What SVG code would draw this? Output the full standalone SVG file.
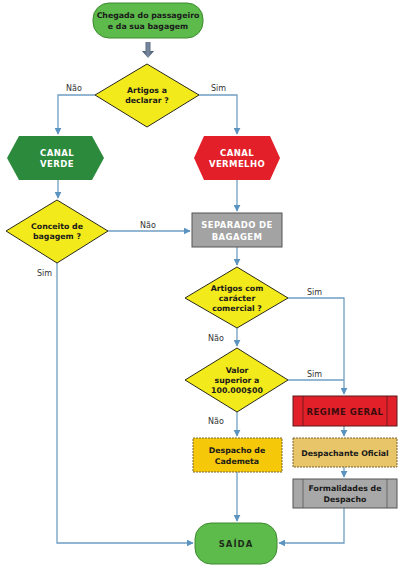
<svg xmlns="http://www.w3.org/2000/svg" width="403" height="570" viewBox="0 0 403 570">
<style>
.t{font-family:"DejaVu Sans",Verdana,sans-serif;font-weight:bold;font-size:7.8px;text-anchor:middle;fill:#1a1a1a}
.w{fill:#ffffff;font-size:8.5px;letter-spacing:0.4px}
.lbl{font-family:"DejaVu Sans",Verdana,sans-serif;font-size:8px;fill:#333}
.c{fill:none;stroke:#6f9fc3;stroke-width:1.3}
.dia{fill:#f3ea1c;stroke:#2a2a1a;stroke-width:1}
</style>
<defs>
<marker id="ah" viewBox="0 0 10 10" refX="9" refY="5" markerWidth="7" markerHeight="7" orient="auto" markerUnits="userSpaceOnUse">
<path d="M0,0 L10,5 L0,10 Z" fill="#5b93c0"/>
</marker>
<linearGradient id="ga" x1="0" x2="1" y1="0" y2="0">
<stop offset="0" stop-color="#3c4c60"/><stop offset="0.5" stop-color="#7a8aa0"/><stop offset="1" stop-color="#3c4c60"/>
</linearGradient>
</defs>
<g id="connectors">
<path class="c" d="M95,95 H58 V134" marker-end="url(#ah)"/>
<path class="c" d="M199,95 H237 V134" marker-end="url(#ah)"/>
<path class="c" d="M58,180 V198" marker-end="url(#ah)"/>
<path class="c" d="M237,180 V211" marker-end="url(#ah)"/>
<path class="c" d="M108,231 H190" marker-end="url(#ah)"/>
<path class="c" d="M237,247 V265" marker-end="url(#ah)"/>
<path class="c" d="M237,328 V346" marker-end="url(#ah)"/>
<path class="c" d="M288,298 H344 V394" marker-end="url(#ah)"/>
<path class="c" d="M288,380 H344"/>
<path class="c" d="M237,412 V436" marker-end="url(#ah)"/>
<path class="c" d="M344,426 V436" marker-end="url(#ah)"/>
<path class="c" d="M344,467 V477" marker-end="url(#ah)"/>
<path class="c" d="M237,472 V521" marker-end="url(#ah)"/>
<path class="c" d="M344,508 V543 H279" marker-end="url(#ah)"/>
<path class="c" d="M57,263 V543 H193" marker-end="url(#ah)"/>
<text class="lbl" x="66" y="91">Não</text>
<text class="lbl" x="211" y="91">Sim</text>
<text class="lbl" x="140" y="228">Não</text>
<text class="lbl" x="37" y="276">Sim</text>
<text class="lbl" x="307" y="295">Sim</text>
<text class="lbl" x="208" y="341">Não</text>
<text class="lbl" x="307" y="377">Sim</text>
<text class="lbl" x="208" y="424">Não</text>
</g>
<g id="start">
<rect x="93" y="3" width="110" height="35" rx="16" fill="#5dbb4c" stroke="#3f8a31" stroke-width="1"/>
<text class="t" x="148" y="18" fill="#1d3d17">Chegada do passageiro</text>
<text class="t" x="148" y="29">e da sua bagagem</text>
<path d="M145.5,42 H150.5 V51 H154 L148,58 L142,51 H145.5 Z" fill="url(#ga)"/>
</g>
<g id="d1">
<polygon class="dia" points="147,64 199,95 147,127 95,95"/>
<text class="t" x="147" y="93">Artigos a</text>
<text class="t" x="147" y="103">declarar ?</text>
</g>
<g id="verde">
<polygon points="7,158 19,136 92,136 104,158 92,180 19,180" fill="#2b8a3c"/>
<text class="t w" x="57" y="156">CANAL</text>
<text class="t w" x="57" y="167">VERDE</text>
</g>
<g id="vermelho">
<polygon points="194,158 204,136 270,136 280,158 270,180 204,180" fill="#e3202a"/>
<text class="t w" x="237" y="156">CANAL</text>
<text class="t w" x="237" y="167">VERMELHO</text>
</g>
<g id="d2">
<polygon class="dia" points="57,200 108,231 57,263 6,231"/>
<text class="t" x="57" y="229">Conceito de</text>
<text class="t" x="57" y="239">bagagem ?</text>
</g>
<g id="separado">
<rect x="192" y="213" width="90" height="34" fill="#a3a3a3" stroke="#555" stroke-width="1"/>
<text class="t w" x="237" y="228">SEPARADO DE</text>
<text class="t w" x="237" y="240">BAGAGEM</text>
</g>
<g id="d3">
<polygon class="dia" points="237,267 288,298 237,328 185,298"/>
<text class="t" x="237" y="291">Artigos com</text>
<text class="t" x="237" y="301">carácter</text>
<text class="t" x="237" y="311">comercial ?</text>
</g>
<g id="d4">
<polygon class="dia" points="237,348 288,380 237,412 185,380"/>
<text class="t" x="237" y="373">Valor</text>
<text class="t" x="237" y="383">superior a</text>
<text class="t" x="237" y="393">100.000$00</text>
</g>
<g id="regime">
<rect x="293" y="396" width="104" height="30" fill="#e2202a" stroke="#5a1a1a" stroke-width="1"/>
<line x1="303" y1="396" x2="303" y2="426" stroke="#5a1a1a" stroke-width="0.8"/>
<line x1="387" y1="396" x2="387" y2="426" stroke="#5a1a1a" stroke-width="0.8"/>
<text class="t" x="345" y="415" style="font-size:8.5px;letter-spacing:0.5px;fill:#3a0d0d">REGIME GERAL</text>
</g>
<g id="cademeta">
<rect x="193" y="438" width="89" height="34" fill="#f5c80a" stroke="#7a6530" stroke-width="1" stroke-dasharray="2,1"/>
<text class="t" x="237" y="453">Despacho de</text>
<text class="t" x="237" y="464">Cademeta</text>
</g>
<g id="despachante">
<rect x="293" y="438" width="104" height="29" fill="#e8c569" stroke="#7a6530" stroke-width="1" stroke-dasharray="2,1"/>
<text class="t" x="345" y="456">Despachante Oficial</text>
</g>
<g id="formalidades">
<rect x="293" y="479" width="104" height="29" fill="#a8a8a8" stroke="#555" stroke-width="1"/>
<line x1="303" y1="479" x2="303" y2="508" stroke="#555" stroke-width="0.8"/>
<line x1="387" y1="479" x2="387" y2="508" stroke="#555" stroke-width="0.8"/>
<text class="t" x="345" y="491">Formalidades de</text>
<text class="t" x="345" y="502">Despacho</text>
</g>
<g id="saida">
<rect x="195" y="523" width="82" height="41" rx="16" fill="#5dbb4c" stroke="#3f8a31" stroke-width="1"/>
<text class="t" x="236" y="547" style="font-size:8.5px;letter-spacing:1px;fill:#1d2d1a">SAÍDA</text>
</g>
</svg>
